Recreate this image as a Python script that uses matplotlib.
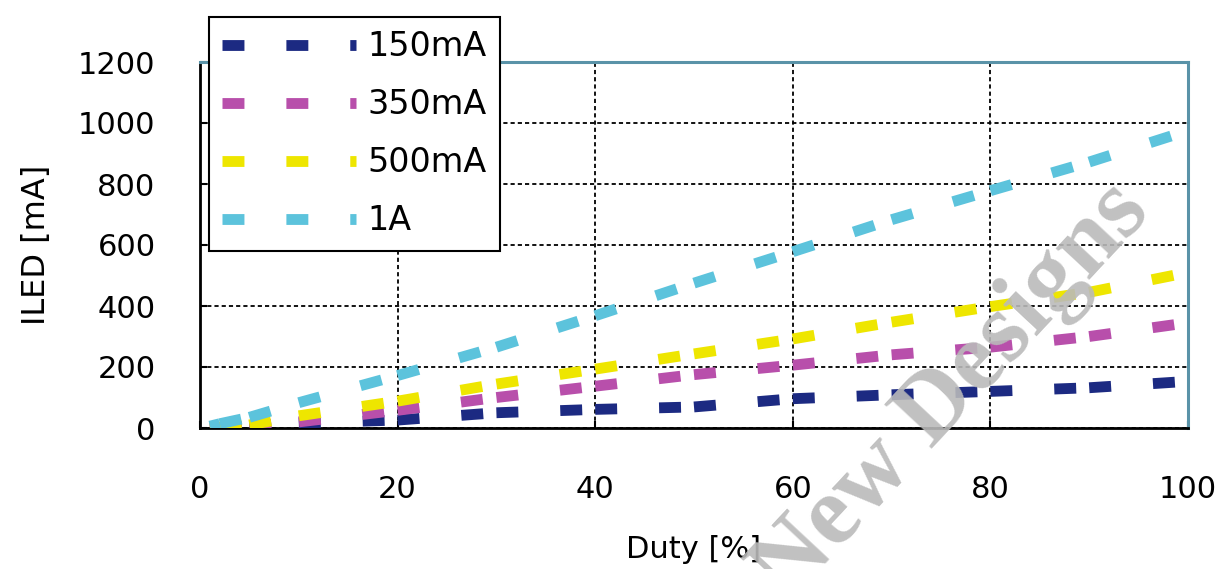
import matplotlib
matplotlib.use("Agg")
import matplotlib.pyplot as plt

duty = [1, 2, 5, 10, 20, 30, 40, 50, 60, 70, 80, 90, 100]
i150 = [0, 1, 3, 16, 26, 50, 61, 69, 96, 109, 120, 132, 153]
i350 = [0, 2, 6, 20, 58, 100, 137, 175, 206, 240, 265, 300, 345]
i500 = [1, 3, 10, 40, 88, 144, 193, 243, 292, 347, 398, 445, 510]
i1a = [6, 14, 35, 83, 172, 265, 368, 475, 578, 683, 778, 872, 975]

series_labels = ["150mA", "350mA", "500mA", "1A"]
series_colors = ["#1c2a82", "#b84fab", "#eee600", "#5cc3dc"]
series_values = [i150, i350, i500, i1a]

xticks = [0, 20, 40, 60, 80, 100]
yticks = [0, 200, 400, 600, 800, 1000, 1200]

plt.rcParams['lines.scale_dashes'] = False
plt.rcParams['font.family'] = ['DejaVu Sans']

W, H = 1223, 569
fig = plt.figure(figsize=(W / 100, H / 100), dpi=100)
ax = fig.add_axes([200 / W, 1 - 428 / H, (1188 - 200) / W, (428 - 62) / H])

dash = (15.8, 30.2)
for lab, col, vals in zip(series_labels, series_colors, series_values):
    for i in range(len(duty) - 1):
        ax.plot(duty[i:i + 2], vals[i:i + 2], color=col, lw=7.8,
                linestyle=(0, dash), dash_capstyle='butt',
                solid_capstyle='butt', zorder=3,
                label=lab if i == 0 else None)

ax.set_xlim(0, 100)
ax.set_ylim(0, 1200)
ax.set_xticks(xticks)
ax.set_yticks(yticks)
ax.grid(True, color='black', linestyle=(0, (3.0, 2.2)), linewidth=1.3, zorder=1)
ax.set_axisbelow(True)
ax.tick_params(axis='both', direction='in', length=5, width=1.5, labelsize=22)
ax.tick_params(axis='x', pad=34)
ax.tick_params(axis='y', pad=32)

for s in ['left', 'bottom']:
    ax.spines[s].set_color('black')
    ax.spines[s].set_linewidth(2.0)
for s in ['top', 'right']:
    ax.spines[s].set_color('#5a93a8')
    ax.spines[s].set_linewidth(2.2)

ax.set_xlabel("Duty [%]", fontsize=22, labelpad=22)
ax.set_ylabel("ILED [mA]", fontsize=23, labelpad=19)

leg = ax.legend(loc='upper left', bbox_to_anchor=(209 / W, 1 - 17 / H),
                bbox_transform=fig.transFigure, borderaxespad=0,
                fontsize=24, handlelength=4.0, handletextpad=0.35,
                labelspacing=0.75, borderpad=0.4, fancybox=False,
                framealpha=1, edgecolor='black')
leg.get_frame().set_linewidth(1.5)
leg.set_zorder(5)

fig.text(952 / W, 1 - 392 / H, "New Designs", fontsize=71,
         fontfamily='Liberation Serif', fontweight='bold', color='#bababa',
         alpha=0.9, rotation=47, ha='center', va='center', zorder=10)

fig.savefig("out.png", dpi=100)
